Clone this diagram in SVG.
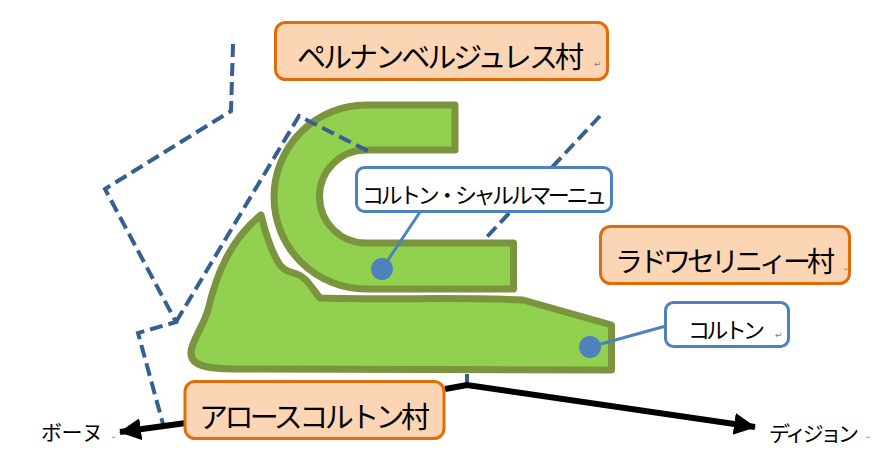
<svg xmlns="http://www.w3.org/2000/svg" width="880" height="470" viewBox="0 0 880 470">
<style>
.area{fill:#92d050;stroke:#7a953e;stroke-width:7;stroke-linejoin:round}
.village{fill:#fcd5b5;stroke:#e36c0a;stroke-width:3}
.label{fill:#fff;stroke:#4f81bd;stroke-width:3}
.dash{fill:none;stroke:#376092;stroke-width:4;stroke-dasharray:13 6}
.lead{fill:none;stroke:#4f81bd;stroke-width:3}
.road{fill:none;stroke:#000;stroke-width:6}
.dot{fill:#4f81bd}
text{font-family:"Noto Sans CJK JP","Liberation Sans",sans-serif;fill:#000}
.mark{font-family:"DejaVu Sans",sans-serif;fill:#808080;font-size:9px}
.speck{font-family:"DejaVu Sans",sans-serif;fill:#808080;font-size:5px}
</style>
<defs>
<marker id="head" markerUnits="userSpaceOnUse" markerWidth="24" markerHeight="24" refX="21" refY="11" orient="auto"><path d="M0 0L22 11L0 22Z" fill="#000"/></marker>
</defs>
<rect width="880" height="470" fill="#fff"/>
<g id="area-charlemagne"><path class="area" d="M455 105V150H366A46.500 46.500 0 0 0 366 243H513.500V289H366A92 92 0 0 1 366 105Z"/></g>
<g id="area-corton"><path class="area" d="M261 215C266 235 272 253 280 265C285 271 290 272 297 274C306 277 311 287 320 298C380 300 470 297 523 300L611.500 325V370L235 369C205 369 190 365 191 352C192 340 203 327 208 310C216 275 230 240 261 215Z"/></g>
<g id="connectors">
<path class="dash" d="M233 44L231 111L105 189L176 322L138 333L163 424"/>
<path class="dash" d="M176 322L299 116L368 151"/>
<path class="dash" d="M600 116L484 240"/>
<path class="dash" d="M467 374V385"/>
<path class="road" d="M186 423L120 432" marker-end="url(#head)"/>
<path class="road" d="M445 389L467 385L755 427" marker-end="url(#head)"/>
<path class="lead" d="M420 212L382 269"/>
<path class="lead" d="M590 347L666 326"/>
</g>
<g id="dot-charlemagne"><circle class="dot" cx="382" cy="269" r="11"/></g>
<g id="dot-corton"><circle class="dot" cx="590" cy="347" r="11"/></g>
<g id="village-pernand"><rect class="village" x="275.500" y="22.500" width="332" height="57" rx="10"/><text x="297" y="68" font-size="29" textLength="287">ペルナンベルジュレス村</text><text class="mark" x="594" y="67">↵</text></g>
<g id="village-ladoix"><rect class="village" x="600.500" y="226.500" width="249" height="57" rx="10"/><text x="615" y="272" font-size="28" textLength="220">ラドワセリニィー村</text><text class="speck" x="844" y="271">↵</text></g>
<g id="village-aloxe"><rect class="village" x="185" y="381.500" width="259" height="57" rx="10"/><text x="199" y="428" font-size="29" textLength="231">アロースコルトン村</text></g>
<g id="label-charlemagne"><rect class="label" x="356.500" y="167.500" width="255" height="44" rx="8"/><text x="362" y="203" font-size="22" textLength="245">コルトン・シャルルマーニュ</text></g>
<g id="label-corton"><rect class="label" x="665.500" y="302.500" width="123" height="44" rx="8"/><text x="688" y="338" font-size="22" textLength="77">コルトン</text><text class="mark" x="775" y="338">↵</text></g>
<g id="town-beaune"><text x="41" y="440" font-size="21" textLength="62">ボーヌ</text><text class="speck" x="112" y="439">↵</text></g>
<g id="town-dijon"><text x="769" y="441" font-size="21" textLength="90">ディジョン</text><text class="speck" x="866" y="439">↵</text></g>
</svg>
